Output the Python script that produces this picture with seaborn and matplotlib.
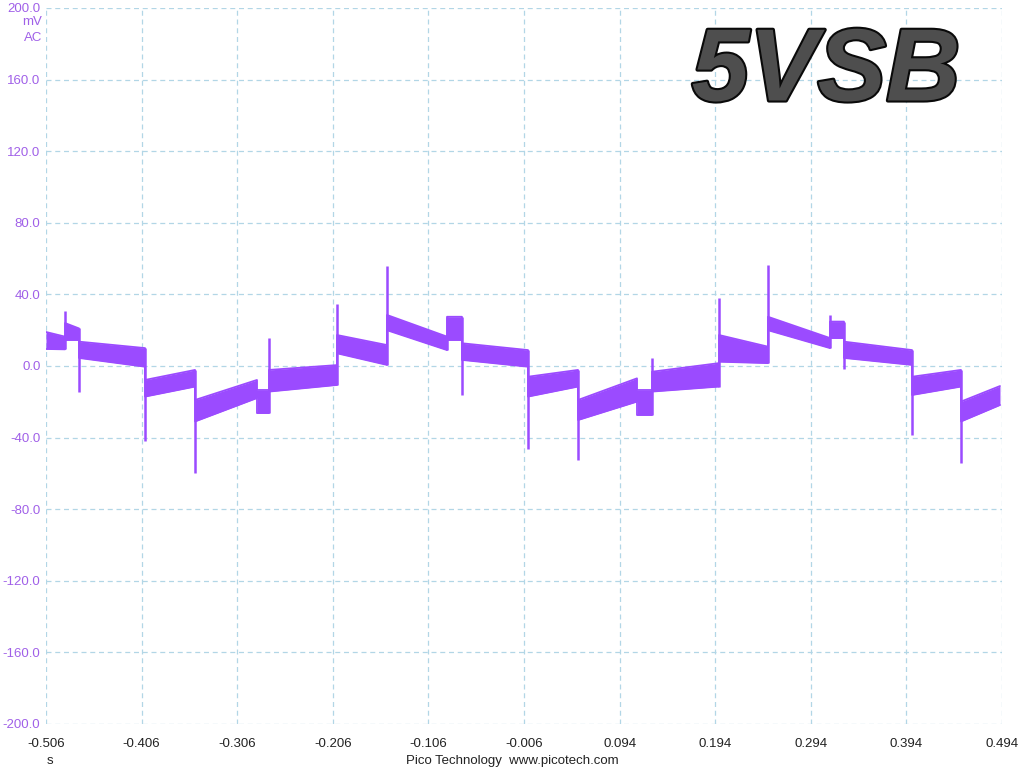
#5VSB ripple trace (Pico scope style)
import numpy as np
import matplotlib
matplotlib.use("Agg")
import matplotlib.pyplot as plt
import matplotlib.patheffects as pe
import seaborn as sns

#band segments of the trace: time span and upper/lower envelope in mV
seg_start = [-0.506, -0.4861, -0.4715, -0.4024, -0.3501, -0.2853, -0.2727, -0.2016,
             -0.1493, -0.0865, -0.0709, -0.0018, 0.0505, 0.1122, 0.1279, 0.1980,
             0.2492, 0.3141, 0.3287, 0.3999, 0.4511]
seg_end = seg_start[1:] + [0.4919]
top_start = [19.0, 24.0, 13.6, -7.8, -19.0, -13.4, -2.2, 17.3, 28.5, 27.5, 12.7, -6.0,
             -19.0, -13.4, -3.2, 17.3, 27.5, 24.8, 13.6, -6.0, -19.9]
top_end = [16.4, 21.0, 10.0, -2.2, -7.8, -13.4, 0.5, 11.7, 16.4, 27.5, 8.9, -2.2,
           -6.9, -13.4, 1.6, 10.8, 15.6, 24.8, 8.9, -2.2, -11.2]
bot_start = [9.5, 14.5, 4.5, -17.1, -31.0, -26.3, -14.3, 7.1, 20.0, 14.5, 3.4, -17.1,
             -30.2, -27.4, -14.3, 2.4, 20.0, 15.6, 4.5, -16.2, -31.0]
bot_end = [9.3, 14.5, -0.4, -11.5, -17.9, -26.3, -10.6, 0.6, 8.9, 14.5, -0.4, -11.5,
           -19.9, -27.4, -11.5, 1.6, 10.0, 15.6, 0.6, -11.5, -21.8]

#switching spikes: time and peak value (mV)
spike_t = [-0.4861, -0.4715, -0.4024, -0.3501, -0.2727, -0.2016, -0.1493, -0.0865,
           -0.0709, -0.0018, 0.0505, 0.1279, 0.1980, 0.2492, 0.3141, 0.3287, 0.3999, 0.4511]
spike_v = [30.7, -14.3, -41.7, -59.8, 15.8, 34.6, 55.9, 27.5, -16.2, -46.4, -52.5,
           4.3, 38.0, 56.4, 28.5, -1.7, -38.5, -54.2]

x_ticks = [-0.506, -0.406, -0.306, -0.206, -0.106, -0.006, 0.094, 0.194, 0.294, 0.394, 0.494]
y_ticks = [-200, -160, -120, -80, -40, 0, 40, 80, 120, 160, 200]

trace_col = "#9b4bff"
label_col = "#a060e8"
grid_col = "#b2d6e6"

sns.set_style("white")
plt.rcParams['font.family'] = ['Liberation Sans', 'DejaVu Sans']

fig = plt.figure(figsize=(10.24, 7.68), dpi=100)
ax = fig.add_axes([0.0449, 0.0573, 0.9336, 0.9323])

#build envelope arrays segment by segment
t_env, hi_env, lo_env = [], [], []
for i in range(len(seg_start)):
    t_env += [seg_start[i], seg_end[i]]
    hi_env += [top_start[i], top_end[i]]
    lo_env += [bot_start[i], bot_end[i]]
t_env = np.array(t_env)
hi_env = np.array(hi_env)
lo_env = np.array(lo_env)

ax.fill_between(t_env, lo_env, hi_env, color=trace_col, linewidth=0)
sns.lineplot(x=t_env, y=hi_env, ax=ax, color=trace_col, lw=1.3, sort=False, estimator=None)
sns.lineplot(x=t_env, y=lo_env, ax=ax, color=trace_col, lw=1.3, sort=False, estimator=None)

for t, v in zip(spike_t, spike_v):
    before = np.interp(t - 1e-4, t_env, hi_env), np.interp(t - 1e-4, t_env, lo_env)
    after = np.interp(t + 1e-4, t_env, hi_env), np.interp(t + 1e-4, t_env, lo_env)
    lo = min(v, before[1], after[1])
    hi = max(v, before[0], after[0])
    ax.vlines(t, lo, hi, color=trace_col, lw=1.8)

ax.set_xlim(x_ticks[0], x_ticks[-1])
ax.set_ylim(-200, 200)
ax.set_xticks(x_ticks)
ax.set_xticklabels(["%.3f" % v for v in x_ticks], fontsize=9.5, color="#222222")
ax.set_yticks(y_ticks)
ax.set_yticklabels(["%.1f" % v for v in y_ticks], fontsize=9.5, color=label_col)
ax.tick_params(axis="both", length=0, pad=4)
ax.tick_params(axis="x", pad=10)
ax.grid(True, color=grid_col, linestyle=(0, (4, 3)), linewidth=0.9)
for s in ax.spines.values():
    s.set_visible(False)

#unit labels and footer
fig.text(42 / 1024, 1 - 22 / 768, "mV", ha="right", va="center", fontsize=9.5, color=label_col)
fig.text(42 / 1024, 1 - 38 / 768, "AC", ha="right", va="center", fontsize=9.5, color=label_col)
fig.text(50 / 1024, 1 - 761 / 768, "s", ha="center", va="center", fontsize=9.5, color="#222222")
fig.text(0.5, 1 - 761 / 768, "Pico Technology  www.picotech.com", ha="center", va="center",
         fontsize=9.5, color="#222222")

#big title
fig.text(826 / 1024, 1 - 74 / 768, "5VSB", ha="center", va="center", fontsize=74,
         fontweight="bold", fontstyle="italic", color="#4e4e4e",
         path_effects=[pe.withStroke(linewidth=3, foreground="#0a0a0a")])

plt.savefig("out.png", dpi=100)
plt.close()
